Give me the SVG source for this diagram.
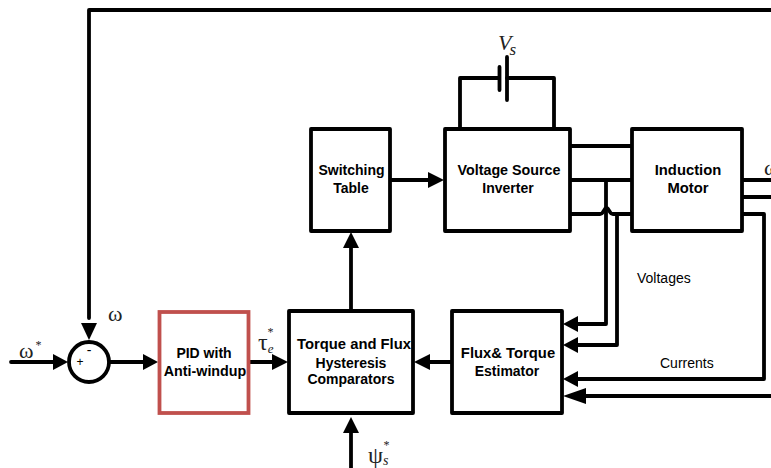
<svg xmlns="http://www.w3.org/2000/svg" width="771" height="468" viewBox="0 0 771 468">
<style>
.b{fill:#fff;stroke:#000;stroke-width:3.800;stroke-linejoin:round}
.l{fill:none;stroke:#000;stroke-width:3.800;stroke-linejoin:round;stroke-linecap:round}
.a{fill:#000;stroke:none}
text{font-family:"Liberation Sans",Arial,sans-serif;fill:#000}
.t{font-size:14px;font-weight:bold;text-anchor:middle}
.w{font-size:14.800px}
.n{font-size:14px}
.s{font-family:"Liberation Serif",serif;fill:#222}
</style>
<g id="connectors">
<path class="l" d="M771 10H89V318"/>
<path class="l" d="M11 362H58"/>
<path class="l" d="M110 362H145"/>
<path class="l" d="M249 362H274"/>
<path class="l" d="M351 310V246"/>
<path class="l" d="M391 180H430"/>
<path class="l" d="M451 362H428"/>
<path class="l" d="M351 468V432"/>
<path class="l" d="M460 128V78H499M507 78H554V128"/>
<path class="l" d="M499.500 67V90"/>
<path class="l" d="M507 57V100"/>
<path class="l" d="M571 146H631"/>
<path class="l" d="M571 180H631"/>
<path class="l" d="M571 214H600Q602 214 603 212L605 209Q606.500 207 608 209L610 212Q611 214 613 214H631"/>
<path class="l" d="M606 180V324H578"/>
<path class="l" d="M617 214V345H578"/>
<path class="l" d="M743 180H771"/>
<path class="l" d="M743 197H771"/>
<path class="l" d="M743 214H764V379H578"/>
<path class="l" d="M771 396H585"/>
<path class="a" d="M89 340L81 323H97Z"/>
<path class="a" d="M68 362L53 354V370Z"/>
<path class="a" d="M158 362L143 354V370Z"/>
<path class="a" d="M288 362L272 354V370Z"/>
<path class="a" d="M351 232L343 248H359Z"/>
<path class="a" d="M444 180L428 172V188Z"/>
<path class="a" d="M414 362L430 354V370Z"/>
<path class="a" d="M351 417L343 433H359Z"/>
<path class="a" d="M563 324L578 316V332Z"/>
<path class="a" d="M563 345L578 337V353Z"/>
<path class="a" d="M563 379L578 371V387Z"/>
<path class="a" d="M563 396L586 388V404Z"/>
</g>
<g id="sum">
<circle cx="89" cy="362" r="20" fill="#fff" stroke="#000" stroke-width="3.800"/>
<text x="80" y="366" text-anchor="middle" font-size="12">+</text>
<text x="89" y="355" text-anchor="middle" font-size="14">-</text>
</g>
<g id="pid">
<rect x="159.500" y="312" width="89" height="101" fill="#fff" stroke="#c0504d" stroke-width="3.800"/>
<text class="t" x="204" y="358">PID with</text>
<text class="t" x="205" y="376" style="font-size:14.300px">Anti-windup</text>
</g>
<g id="comparators">
<rect class="b" x="289" y="311" width="124" height="102"/>
<text class="t w" x="354" y="349">Torque and Flux</text>
<text class="t" x="351" y="368">Hysteresis</text>
<text class="t" x="351" y="384">Comparators</text>
</g>
<g id="estimator">
<rect class="b" x="452" y="311" width="110" height="102"/>
<text class="t w" x="508" y="358">Flux&amp; Torque</text>
<text class="t" x="507" y="376">Estimator</text>
</g>
<g id="switching">
<rect class="b" x="311" y="129" width="79" height="102"/>
<text class="t" x="351.500" y="175">Switching</text>
<text class="t" x="351" y="193">Table</text>
</g>
<g id="inverter">
<rect class="b" x="445" y="129" width="125" height="102"/>
<text class="t" x="509" y="175" style="font-size:14.300px">Voltage Source</text>
<text class="t" x="508" y="193">Inverter</text>
</g>
<g id="motor">
<rect class="b" x="632" y="129" width="110" height="102"/>
<text class="t w" x="688" y="175">Induction</text>
<text class="t w" x="688" y="193">Motor</text>
</g>
<g id="labels">
<text class="n" x="637" y="283">Voltages</text>
<text class="n" x="660" y="368">Currents</text>
<text class="s" x="764" y="175" font-size="22">ω</text>
<text class="s" x="108" y="321" font-size="22">ω</text>
<text class="s" x="19" y="358" font-size="22">ω<tspan font-size="12" dx="2" dy="-9">*</tspan></text>
<text class="s" x="258" y="350" font-size="24">τ<tspan font-size="13" font-style="italic" dx="0" dy="3">e</tspan><tspan font-size="12" dx="-6" dy="-17">*</tspan></text>
<text class="s" x="368" y="463" font-size="24">ψ<tspan font-size="14" font-style="italic" dy="2">s</tspan><tspan font-size="12" dx="-5" dy="-16">*</tspan></text>
<text class="s" x="498" y="50" font-size="22" font-style="italic">V<tspan font-size="17" dx="-2" dy="5">s</tspan></text>
</g>
</svg>
